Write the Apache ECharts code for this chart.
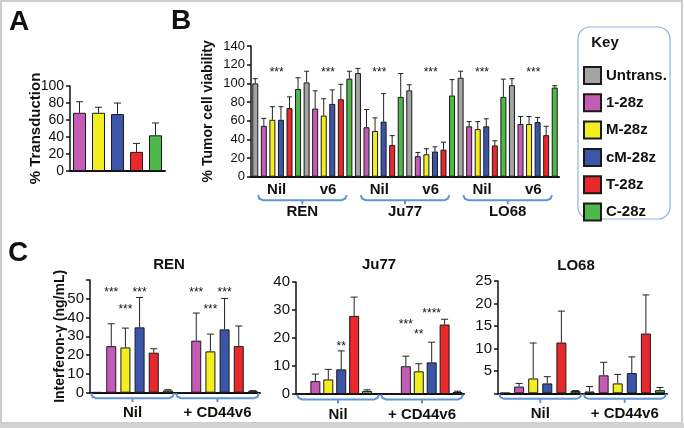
<!DOCTYPE html>
<html><head><meta charset="utf-8">
<script src="https://cdn.jsdelivr.net/npm/echarts@6/dist/echarts.min.js"></script>
<style>html,body{margin:0;padding:0;background:#fff}#c{width:684px;height:428px}</style>
</head><body><div id="c"></div>
<script>
// ---------- data ----------
const constructs = ['Untrans.', '1-28z', 'M-28z', 'cM-28z', 'T-28z', 'C-28z'];
const colors = ['#a4a4a4', '#c45cb6', '#f3ee1f', '#3b56a8', '#e8282c', '#4eb84a'];

// Panel A: % transduction (1-28z .. C-28z)
const A_mean = [68.5, 68.5, 67, 22.5, 42];
const A_sd = [13, 6.5, 13, 10, 14.5];

// Panel B: % tumor cell viability (Untrans., 1-28z, M-28z, cM-28z, T-28z, C-28z)
const B_groups = ['Nil', 'v6', 'Nil', 'v6', 'Nil', 'v6'];
const B_cells = ['REN', 'Ju77', 'LO68'];
const B_REN_Nil = [100, 54.5, 61, 61, 73.5, 94];
const B_REN_Nil_sd = [5, 8, 14, 14, 12, 12];
const B_REN_v6 = [101, 73, 65.5, 78, 83, 105];
const B_REN_v6_sd = [12, 19, 18, 15, 16, 8];
const B_Ju77_Nil = [111, 53, 49, 59, 34, 85.5];
const B_Ju77_Nil_sd = [5, 19, 14, 30, 10, 25];
const B_Ju77_v6 = [92.5, 22, 24, 27, 29, 87];
const B_Ju77_v6_sd = [6, 4, 6, 5, 8, 17];
const B_LO68_Nil = [106, 54, 51, 54, 33.5, 85.5];
const B_LO68_Nil_sd = [7, 5, 8, 8, 5, 19];
const B_LO68_v6 = [98, 56.5, 56.5, 58.5, 44.5, 95.5];
const B_LO68_v6_sd = [7, 8, 8, 5, 9.5, 2];
const B_stars = ['***', '***', '***', '***', '***', '***'];
const B_starLevel = [115, 115, 115, 115, 115, 115];

// Panel C: Interferon-gamma (ng/mL)
const C_groups = ['Nil', '+ CD44v6'];
const C_REN_Nil = [0.3, 24.8, 24.1, 34.8, 21.3, 1.2];
const C_REN_Nil_sd = [0, 11.9, 10.3, 15.9, 2.1, 0.4];
const C_REN_v6 = [0.2, 27.7, 22, 33.7, 24.8, 0.8];
const C_REN_v6_sd = [0, 14.7, 9.2, 16.5, 10.7, 0.3];
const C_Ju77_Nil = [0.2, 4.6, 5.2, 8.8, 27.9, 1.1];
const C_Ju77_Nil_sd = [0, 2.5, 3.6, 6.6, 6.7, 0.4];
const C_Ju77_v6 = [0.1, 9.9, 8.1, 11.3, 24.8, 0.7];
const C_Ju77_v6_sd = [0, 3.6, 2.7, 7.2, 1.9, 0.3];
const C_LO68_Nil = [0.1, 1.5, 3.3, 2.2, 11.3, 0.5];
const C_LO68_Nil_sd = [0, 0.7, 7.9, 1.5, 7, 0.1];
const C_LO68_v6 = [0.4, 4, 2.2, 4.5, 13.3, 0.7];
const C_LO68_v6_sd = [1.1, 2.9, 2, 3.6, 8.6, 0.6];
// significance marks: [text, group, construct, level]
const C_REN_stars = [['***', 0, 1, 54.6], ['***', 0, 2, 46], ['***', 0, 3, 54.6], ['***', 1, 1, 54.6], ['***', 1, 2, 46], ['***', 1, 3, 54.6]];
const C_Ju77_stars = [['**', 0, 3, 18.1], ['***', 1, 1, 25.8], ['**', 1, 2, 22.3], ['****', 1, 3, 29.9]];
const C_LO68_stars = [];

// ---------- helpers ----------
const FONT = '"Liberation Sans", Arial, Helvetica, sans-serif';
const INK = '#111';
const BRACKET = '#5d95d6';

function flatten(groups, spacer) {
  const out = [];
  groups.forEach((g, gi) => { if (spacer && gi > 0) out.push(null); g.forEach(v => out.push(v)); });
  return out;
}
function consOf(nGroups, spacer) {
  const out = [];
  for (let g = 0; g < nGroups; g++) { if (spacer && g > 0) out.push(null); for (let k = 0; k < 6; k++) out.push(k); }
  return out;
}
function slotOf(g, k, spacer) { return g * 6 + k + (spacer ? g : 0); }

const series = [];
function addBars(xi, yi, means, sds, cons, barWidth, capHalf) {
  for (let k = 0; k < 6; k++) {
    const data = means.map((v, i) => (cons[i] === k && v != null) ? v : '-');
    if (!data.some(d => d !== '-')) continue;
    series.push({
      type: 'bar', name: constructs[k], xAxisIndex: xi, yAxisIndex: yi, data,
      barWidth, barGap: '-100%', silent: true,
      itemStyle: { color: colors[k], borderColor: '#1a1a1a', borderWidth: 1 }
    });
  }
  const ed = [];
  means.forEach((v, i) => { if (v != null && sds[i] > 0) ed.push([i, v, v + sds[i]]); });
  series.push({
    type: 'custom', xAxisIndex: xi, yAxisIndex: yi, clip: false, silent: true, z: 3, data: ed,
    renderItem: (p, api) => {
      const x = api.value(0);
      const lo = api.coord([x, api.value(1)]);
      const hi = api.coord([x, api.value(2)]);
      const st = { stroke: '#222', lineWidth: 1 };
      return { type: 'group', children: [
        { type: 'line', shape: { x1: lo[0], y1: lo[1], x2: hi[0], y2: hi[1] }, style: st },
        { type: 'line', shape: { x1: hi[0] - capHalf, y1: hi[1], x2: hi[0] + capHalf, y2: hi[1] }, style: st }
      ] };
    }
  });
}
function addStars(xi, yi, items, fontSize) {
  // items: [slot, level, text]
  series.push({
    type: 'custom', xAxisIndex: xi, yAxisIndex: yi, clip: false, silent: true, z: 5,
    data: items.map(it => [it[0], it[1]]),
    renderItem: (p, api) => {
      const c = api.coord([api.value(0), api.value(1)]);
      return { type: 'text', x: c[0], y: c[1] + fontSize * 0.25,
        style: { text: items[p.dataIndex][2], align: 'center', verticalAlign: 'middle', textAlign: 'center', textVerticalAlign: 'middle',
          fontSize, fontFamily: FONT, fill: INK } };
    }
  });
}
function addBrackets(xi, yi, n, dy, inset) {
  const d = []; for (let i = 0; i < n; i++) d.push([i, 0]);
  series.push({
    type: 'custom', xAxisIndex: xi, yAxisIndex: yi, clip: false, silent: true, z: 2, data: d,
    renderItem: (p, api) => {
      const c = api.coord([api.value(0), 0]);
      const w = api.size([1, 0])[0];
      const x0 = c[0] - w / 2 + inset, x1 = c[0] + w / 2 - inset, y = c[1] + dy;
      const st = { stroke: BRACKET, lineWidth: 2, fill: null };
      return { type: 'group', children: [
        { type: 'polyline', shape: { points: [[x0, y - 5], [x0 + 1.5, y - 1.5], [x0 + 5, y], [x1 - 5, y], [x1 - 1.5, y - 1.5], [x1, y - 5]] }, style: st },
        { type: 'line', shape: { x1: c[0], y1: y, x2: c[0], y2: y + 4 }, style: { stroke: BRACKET, lineWidth: 2 } }
      ] };
    }
  });
}
function barAxis(gi, n) {
  const d = []; for (let i = 0; i < n; i++) d.push(String(i));
  return { type: 'category', gridIndex: gi, data: d, position: 'bottom',
    axisLabel: { show: false }, axisTick: { show: false }, splitLine: { show: false },
    axisLine: { show: true, onZero: false, lineStyle: { color: INK, width: 2 } } };
}
function labelAxis(gi, labels, margin, offset) {
  return { type: 'category', gridIndex: gi, data: labels, position: 'bottom', offset: offset || 0,
    axisLine: { show: false }, axisTick: { show: false }, splitLine: { show: false },
    axisLabel: { show: true, interval: 0, margin, fontSize: 15, fontWeight: 'bold', color: INK, fontFamily: FONT } };
}
function valAxis(gi, max, interval, fontSize, name, nameGap, nameSize, hide) {
  return { type: 'value', gridIndex: gi, min: 0, max, interval,
    name: name || '', nameLocation: 'middle', nameGap: nameGap || 0, nameMoveOverlap: false,
    nameTextStyle: { fontSize: nameSize || 14, fontWeight: 'bold', color: INK, fontFamily: FONT },
    axisLine: { show: true, lineStyle: { color: INK, width: 1.5 } },
    axisTick: { show: true, length: 4, lineStyle: { color: INK, width: 1.5 } },
    axisLabel: { fontSize, color: INK, margin: 6, fontFamily: FONT,
      formatter: v => (hide && hide.indexOf(v) >= 0) ? '' : String(v) },
    splitLine: { show: false } };
}

// ---------- build panels ----------
// A
addBars(0, 0, A_mean, A_sd, [1, 2, 3, 4, 5], 13, 3.5);
// B
const B_means = flatten([B_REN_Nil, B_REN_v6, B_Ju77_Nil, B_Ju77_v6, B_LO68_Nil, B_LO68_v6], false);
const B_sds = flatten([B_REN_Nil_sd, B_REN_v6_sd, B_Ju77_Nil_sd, B_Ju77_v6_sd, B_LO68_Nil_sd, B_LO68_v6_sd], false);
addBars(1, 1, B_means, B_sds, consOf(6, false), 6, 2.5);
addStars(2, 1, B_stars.map((t, i) => [i, B_starLevel[i], t]), 12);
addBrackets(3, 1, B_cells.length, 23.5, 7);
// C panels
const cPanels = [
  { g: 2, x: 4, lx: 5, groups: [C_REN_Nil, C_REN_v6], sds: [C_REN_Nil_sd, C_REN_v6_sd], stars: C_REN_stars, spacer: false },
  { g: 3, x: 6, lx: 7, groups: [C_Ju77_Nil, C_Ju77_v6], sds: [C_Ju77_Nil_sd, C_Ju77_v6_sd], stars: C_Ju77_stars, spacer: true },
  { g: 4, x: 8, lx: 9, groups: [C_LO68_Nil, C_LO68_v6], sds: [C_LO68_Nil_sd, C_LO68_v6_sd], stars: C_LO68_stars, spacer: false }
];
cPanels.forEach(cp => {
  const m = flatten(cp.groups, cp.spacer), s = flatten(cp.sds, cp.spacer);
  addBars(cp.x, cp.g, m, s, consOf(2, cp.spacer), 10, 3.5);
  addStars(cp.x, cp.g, cp.stars.map(st => [slotOf(st[1], st[2], cp.spacer), st[3], st[0]]), 12);
  addBrackets(cp.lx, cp.g, C_groups.length, 5.5, 1);
});

const nSlots = cp => flatten(cp.groups, cp.spacer).length;

function txt(x, y, text, size, weight, align) {
  return { type: 'text', x, y, silent: true, z: 50,
    style: { text, fontSize: size, fontWeight: weight || 'bold', fontFamily: FONT, fill: INK,
      align: align || 'center', verticalAlign: 'middle', textAlign: align || 'center', textVerticalAlign: 'middle' } };
}

const option = {
  animation: false,
  textStyle: { fontFamily: FONT },
  grid: [
    { left: 70, top: 86, width: 95, height: 85, outerBoundsMode: 'none' },
    { left: 251, top: 46, width: 308, height: 130.7, outerBoundsMode: 'none' },
    { left: 90, top: 280, width: 170, height: 112.7, outerBoundsMode: 'none' },
    { left: 296, top: 282, width: 168, height: 112, outerBoundsMode: 'none' },
    { left: 498, top: 281, width: 169, height: 112.3, outerBoundsMode: 'none' }
  ],
  xAxis: [
    barAxis(0, A_mean.length),
    barAxis(1, B_means.length),
    labelAxis(1, B_groups, 6, 0),
    labelAxis(1, B_cells, 6, 22),
    barAxis(2, nSlots(cPanels[0])), labelAxis(2, C_groups, 13, 0),
    barAxis(3, nSlots(cPanels[1])), labelAxis(3, C_groups, 13, 0),
    barAxis(4, nSlots(cPanels[2])), labelAxis(4, C_groups, 13, 0)
  ],
  yAxis: [
    valAxis(0, 100, 20, 14, '% Transduction', 27, 15),
    valAxis(1, 140, 20, 13, '% Tumor cell viability', 36, 14),
    valAxis(2, 60, 10, 15, 'Interferon-\u03b3 (ng/mL)', 23, 14, [60]),
    valAxis(3, 40, 10, 15),
    valAxis(4, 25, 5, 15, '', 0, 14, [0])
  ],
  legend: {
    data: constructs.map(n => ({ name: n, icon: 'rect' })),
    orient: 'vertical', left: 583, top: 66, padding: 0,
    itemWidth: 17, itemHeight: 17, itemGap: 8.3, selectedMode: false,
    textStyle: { fontSize: 15, fontWeight: 'bold', color: INK, fontFamily: FONT, lineHeight: 17 }
  },
  graphic: [
    { type: 'rect', silent: true, z: 60, shape: { x: 1, y: 1, width: 681, height: 422 }, style: { fill: null, stroke: '#cdcdcd', lineWidth: 2 } },
    { type: 'rect', silent: true, z: 60, shape: { x: 0, y: 423, width: 684, height: 5 }, style: { fill: '#d2d2d2' } },
    { type: 'rect', silent: true, z: 1, shape: { x: 578, y: 27, width: 92, height: 192, r: 12 }, style: { fill: null, stroke: '#8fb2de', lineWidth: 1.2 } },
    txt(605, 42.5, 'Key', 15),
    txt(19, 22, 'A', 28),
    txt(181, 21, 'B', 28),
    txt(18, 253, 'C', 28),
    txt(169, 265, 'REN', 15),
    txt(379, 265, 'Ju77', 15),
    txt(576, 266, 'LO68', 15)
  ],
  series
};

const chart = echarts.init(document.getElementById('c'), null, { renderer: 'canvas', width: 684, height: 428 });
chart.setOption(option);
</script>
</body></html>
